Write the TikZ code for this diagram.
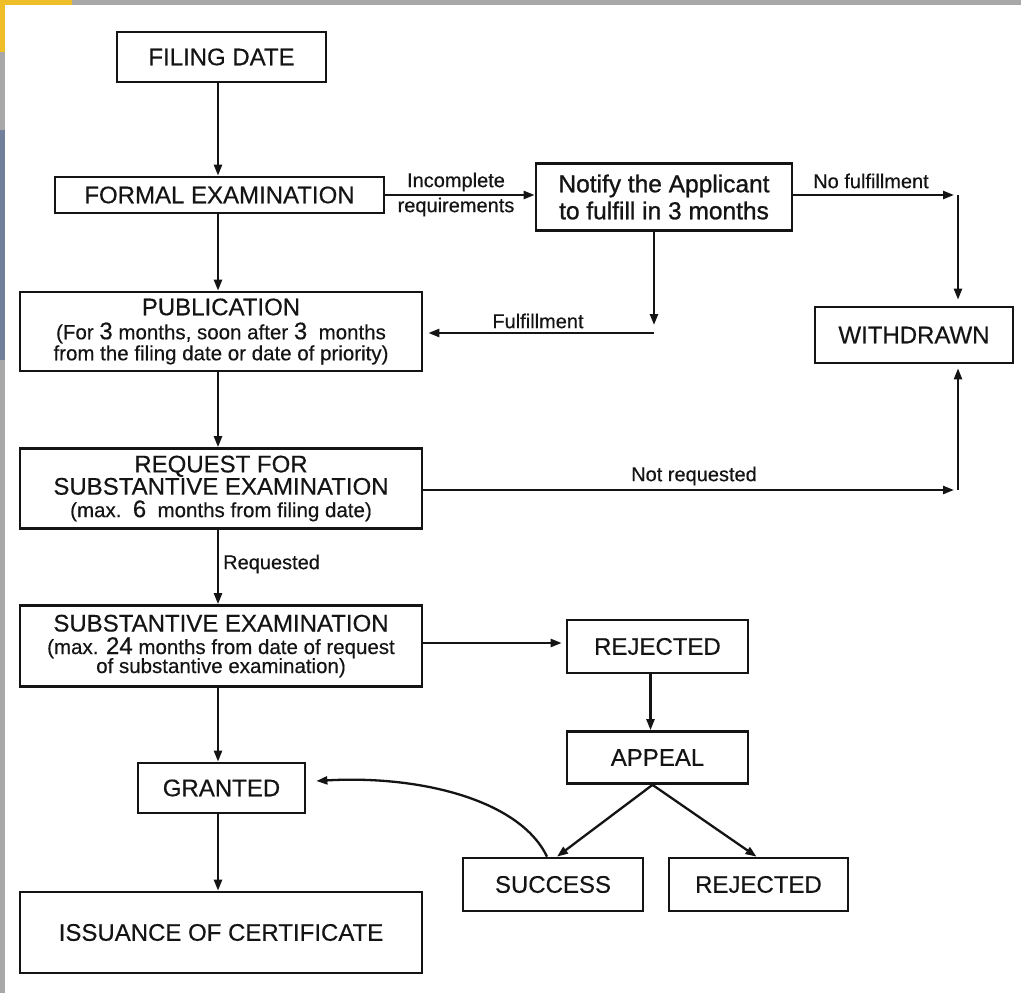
\documentclass[tikz,border=0pt]{standalone}
\usepackage{fontspec}
\setmainfont{Liberation Sans}[FakeBold=0.4]
\newfontfamily\notifyfont{Liberation Sans}[FakeBold=1.0]
\usetikzlibrary{arrows.meta}
\newcommand\myfs[2]{\fontsize{#1}{#2}\selectfont}
\definecolor{stripgray}{RGB}{168,168,168}
\definecolor{stripyellow}{RGB}{240,190,40}
\definecolor{stripblue}{RGB}{112,128,155}
\definecolor{ink}{RGB}{20,20,20}
\begin{document}
\begin{tikzpicture}[x=1pt,y=-1pt,
  box/.style={draw=ink, line width=2.7pt, inner sep=0pt, align=center, text=ink, font=\myfs{24}{21}},
  arr/.style={draw=ink, line width=2.3pt, -{Triangle[length=11pt,width=8pt]}},
  lbl/.style={font=\myfs{20}{22}, inner sep=0pt, text=ink}]
\fill[white] (0,0) rectangle (1021,993);
\useasboundingbox (0,0) rectangle (1021,993);
% slide background strips
\fill[stripgray] (0,0) rectangle (1021,4.5);
\fill[stripgray] (0,0) rectangle (5,993);
\fill[stripyellow] (0,0) rectangle (72,4.5);
\fill[stripyellow] (0,0) rectangle (5,52);
\fill[stripblue] (0,130) rectangle (5,360);

% nodes
\node[box, minimum width=209pt, minimum height=50pt] (fd) at (221.5,57) {FILING DATE};
\node[box, minimum width=329pt, minimum height=36pt] (fe) at (219.5,195) {FORMAL EXAMINATION};
\node[box, minimum width=256pt, minimum height=67pt, font=\notifyfont\myfs{24.5}{27}] (nt) at (664,197) {Notify the Applicant\\to fulfill in 3 months};
\node[box, minimum width=198pt, minimum height=56pt] (wd) at (914,335) {WITHDRAWN};
\node[box, minimum width=402pt, minimum height=79pt, font=\myfs{24}{20}] (pub) at (221,331.5)
  {PUBLICATION\\[4pt]{\myfs{20.5}{20}(For {\myfs{24}{20}3} months, soon after {\myfs{24}{20}3}\ \ months}\\[1pt]{\myfs{20.5}{20}from the filing date or date of priority)}};
\node[box, minimum width=402pt, minimum height=80pt, font=\myfs{24}{21}] (req) at (221,488.5)
  {REQUEST FOR\\SUBSTANTIVE EXAMINATION\\[1.5pt]{\myfs{20.5}{20}(max.\ \ {\myfs{24}{20}6}\ \ months from filing date)}};
\node[box, minimum width=402pt, minimum height=81pt, font=\myfs{24}{20}] (se) at (221,646)
  {SUBSTANTIVE EXAMINATION\\[2.5pt]{\myfs{20.5}{20}(max. {\myfs{24}{20}24} months from date of request}\\[-1pt]{\myfs{20.5}{20}of substantive examination)}};
\node[box, minimum width=181pt, minimum height=53pt] (rj) at (657.5,646.5) {REJECTED};
\node[box, minimum width=181pt, minimum height=52pt] (ap) at (657.5,757.5) {APPEAL};
\node[box, minimum width=167pt, minimum height=50pt] (gr) at (221.5,788) {GRANTED};
\node[box, minimum width=180pt, minimum height=53pt] (su) at (553,884.5) {SUCCESS};
\node[box, minimum width=179pt, minimum height=53pt] (rj2) at (758.5,884.5) {REJECTED};
\node[box, minimum width=402pt, minimum height=81pt] (is) at (221,932.5) {ISSUANCE OF CERTIFICATE};

% labels
\node[lbl] (lInc) at (456,182) {Incomplete};
\node[lbl] (lReq) at (456,207) {requirements};
\node[lbl] (lNoF) at (871,181) {No fulfillment};
\node[lbl] (lFul) at (538,321) {Fulfillment};
\node[lbl] (lNotR) at (694,476) {Not requested};
\node[lbl, anchor=west] (lRq) at (223,564) {Requested};

% main column
\coordinate (col) at (218,0);
\draw[arr] (fd.south -| col) -- (fe.north -| col);
\draw[arr] (fe.south -| col) -- (pub.north -| col);
\draw[arr] (pub.south -| col) -- (req.north -| col);
\draw[arr] (req.south -| col) -- (se.north -| col);
\draw[arr] (se.south -| col) -- (gr.north -| col);
\draw[arr] (gr.south -| col) -- (is.north -| col);

% formal -> notify
\draw[arr] (fe.east) -- (fe.east -| nt.west);
% notify -> withdrawn
\coordinate (c1) at (958,195);
\draw[arr] (nt.east |- c1) -- ([xshift=-4pt]c1);
\draw[arr, shorten >=6pt] (c1) -- (c1 |- wd.north);
% notify -> publication
\coordinate (c2) at (654,333);
\draw[arr] (nt.south -| c2) -- ([yshift=8pt]c2);
\draw[arr, shorten >=5pt] (c2) -- (c2 -| pub.east);
% request -> withdrawn
\coordinate (c3) at (958,490);
\draw[arr] (req.east |- c3) -- ([xshift=-4pt]c3);
\draw[arr, shorten >=4pt] (c3) -- (c3 |- wd.south);
% substantive -> rejected
\draw[arr, shorten >=4pt] (se.east |- 0,643) -- (rj.west |- 0,643);
% rejected -> appeal
\coordinate (c4) at (650.5,0);
\draw[arr] (rj.south -| c4) -- (ap.north -| c4);
% appeal -> success / rejected
\draw[arr] ([xshift=-5pt]ap.south) -- ([xshift=4pt]su.north);
\draw[arr] ([xshift=-5pt]ap.south) -- ([xshift=-2pt]rj2.north);
% success -> granted
\draw[arr] ([xshift=-6pt]su.north) .. controls (520,800) and (420,775) .. ([xshift=10pt,yshift=7pt]gr.east);
\end{tikzpicture}
\end{document}
